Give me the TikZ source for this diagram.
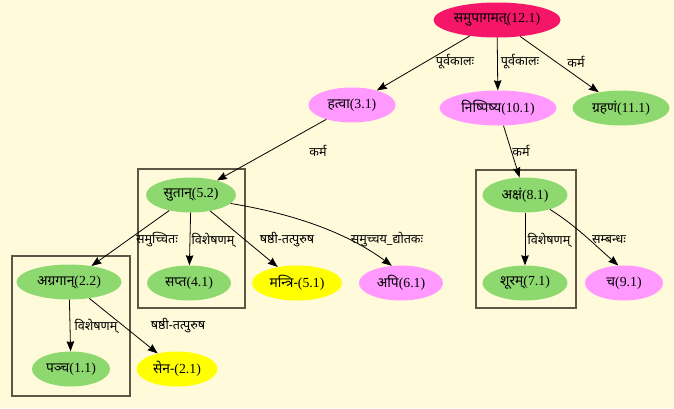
\documentclass[tikz,border=0pt]{standalone}
\usepackage{fontspec}
\setmainfont{Liberation Serif}
\newfontfamily\dev[Script=Devanagari]{Noto Sans}
\usetikzlibrary{shapes.geometric,arrows.meta}
\definecolor{bgc}{RGB}{255,250,218}
\definecolor{rootc}{RGB}{245,22,105}
\definecolor{violc}{RGB}{255,153,255}
\definecolor{greenc}{RGB}{142,216,112}
\definecolor{yellc}{RGB}{255,255,0}
\definecolor{clusc}{RGB}{95,85,70}
\tikzset{
  nd/.style={ellipse,inner sep=0pt,minimum height=35pt,font=\fontsize{13.8}{16}\selectfont},
  rootn/.style={nd,fill=rootc},
  vio/.style={nd,fill=violc},
  grn/.style={nd,fill=greenc},
  yel/.style={nd,fill=yellc},
  lab/.style={inner sep=0pt,font=\dev\fontsize{12.6}{14}\selectfont},
  edge/.style={draw=black,line width=0.8pt,-{Stealth[length=10pt,width=7.5pt,inset=1pt]}},
  clus/.style={draw=clusc,line width=1.3pt}
}
\begin{document}
\begin{tikzpicture}[x=1pt,y=-1pt]
\fill[bgc] (0,0) rectangle (674,408);
\useasboundingbox (0,0) rectangle (674,408);
% clusters
\draw[clus] (138,169) rectangle (245,308);
\draw[clus] (476,170) rectangle (576,308);
\draw[clus] (12,256) rectangle (130,396);
% nodes
\node[rootn,minimum width=127pt] (n12) at (497,20) {{\dev समुपागमत्}(12.1)};
\node[vio,minimum width=87pt] (n3) at (352,105) {{\dev हत्वा}(3.1)};
\node[vio,minimum width=117pt] (n10) at (498,108) {{\dev निष्पिष्य}(10.1)};
\node[grn,minimum width=97pt] (n11) at (621,108) {{\dev ग्रहणं}(11.1)};
\node[grn,minimum width=90pt] (n52) at (191,195) {{\dev सुतान्}(5.2)};
\node[grn,minimum width=84pt] (n4) at (189,283) {{\dev सप्त}(4.1)};
\node[yel,minimum width=90pt] (n51) at (297,283) {{\dev मन्त्रि-}(5.1)};
\node[vio,minimum width=84pt] (n6) at (401,283) {{\dev अपि}(6.1)};
\node[grn,minimum width=85pt] (n8) at (525,195) {{\dev अक्षं}(8.1)};
\node[grn,minimum width=85pt] (n7) at (525,283) {{\dev शूरम्}(7.1)};
\node[vio,minimum width=78pt] (n9) at (624,283) {{\dev च}(9.1)};
\node[grn,minimum width=105pt] (n22) at (69,282) {{\dev अग्रगान्}(2.2)};
\node[grn,minimum width=78pt] (n1) at (71,369) {{\dev पञ्च}(1.1)};
\node[yel,minimum width=81pt] (n21) at (177,369) {{\dev सेन-}(2.1)};
% edges
\draw[edge] (n12) -- (n3);
\draw[edge] (n12) -- (n10);
\draw[edge] (n12) -- (n11);
\draw[edge] (n3) -- (n52);
\draw[edge] (n10) -- (n8);
\draw[edge] (n52) -- (n4);
\draw[edge] (n52) -- (n22);
\draw[edge] (n52) -- (n51);
\draw[edge] (n52.-12) .. controls (300,215) and (350,235) .. (n6.118);
\draw[edge] (n8) -- (n7);
\draw[edge] (n8.-30) .. controls (575,225) and (595,245) .. (n9.108);
\draw[edge] (n22) -- (n1);
\draw[edge] (n22) -- (n21);
% labels
\node[lab] (l1) at (455,62) {पूर्वकालः};
\node[lab] (l2) at (520,62) {पूर्वकालः};
\node[lab] (l3) at (576,62) {कर्म};
\node[lab] (l4) at (318,151) {कर्म};
\node[lab] (l5) at (521,151) {कर्म};
\node[lab] (l6) at (157,240) {समुच्चितः};
\node[lab] (l7) at (213,240) {विशेषणम्};
\node[lab] (l8) at (287,240) {षष्ठी-तत्पुरुष};
\node[lab] (l9) at (387,240) {समुच्चय\_द्योतकः};
\node[lab] (l10) at (549,240) {विशेषणम्};
\node[lab] (l11) at (609,240) {सम्बन्धः};
\node[lab] (l12) at (96,326) {विशेषणम्};
\node[lab] (l13) at (178,326) {षष्ठी-तत्पुरुष};
\end{tikzpicture}
\end{document}
